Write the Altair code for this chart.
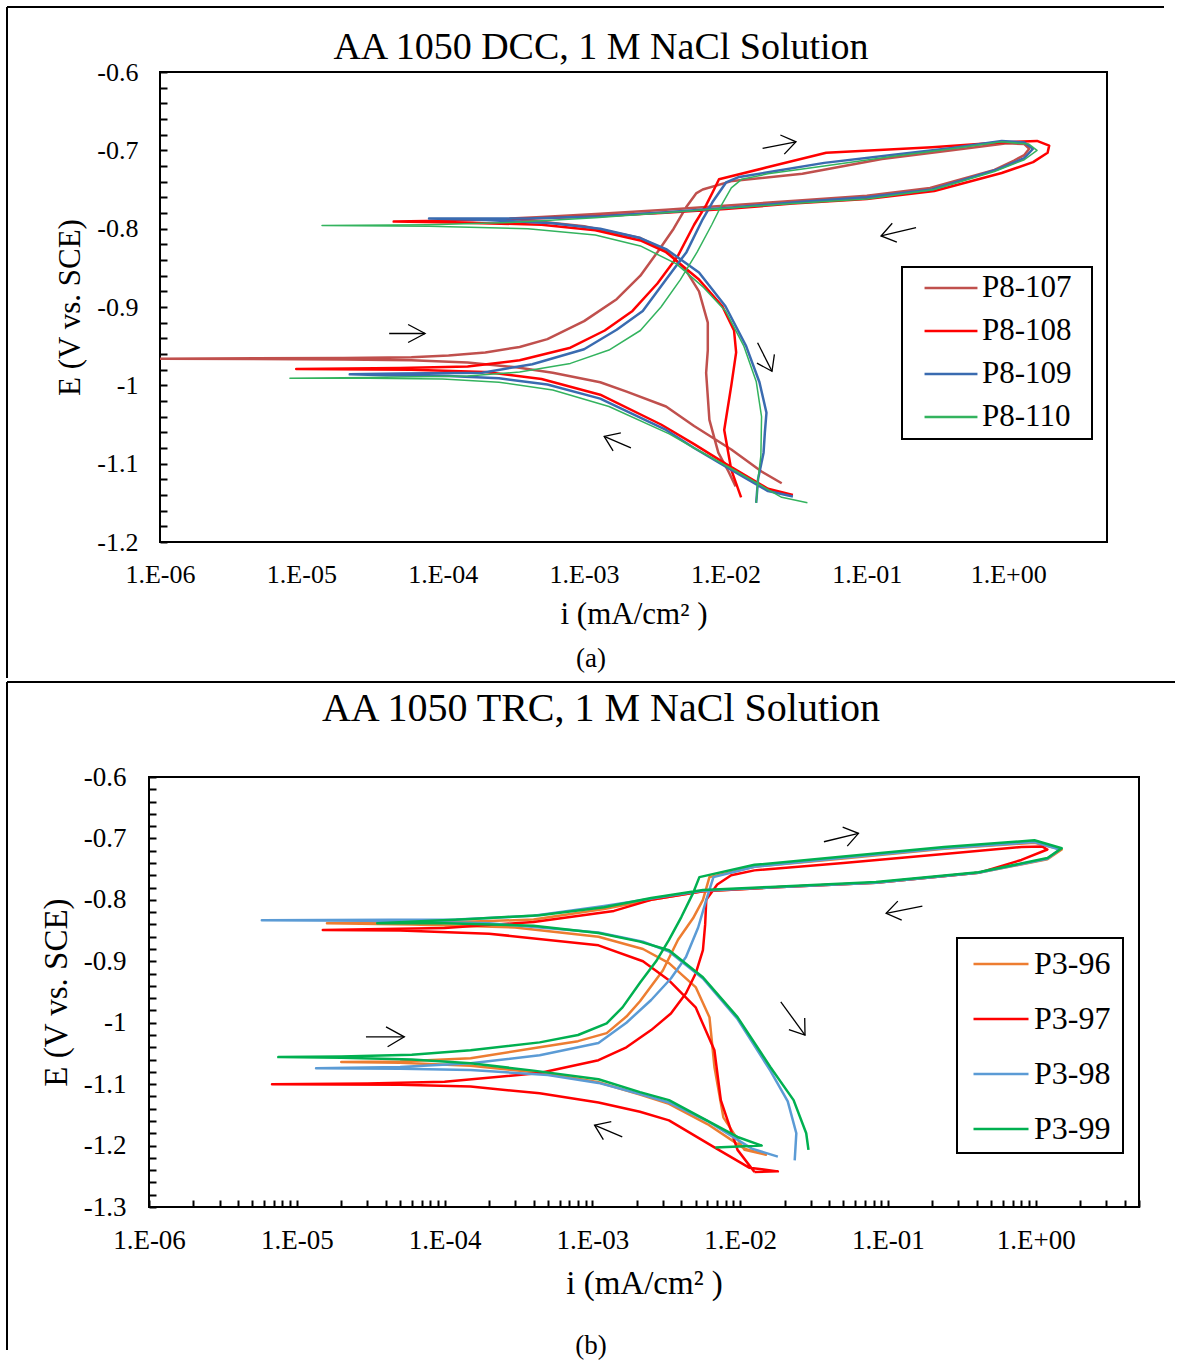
import altair as alt
import pandas as pd

# ---------------- Panel (a): AA 1050 DCC ----------------
A_SERIES = ["P8-107", "P8-108", "P8-109", "P8-110"]
A_COLORS = ["#C0504D", "#FF0000", "#3A6BB0", "#33B35E"]
A_WIDTHS = [2.5, 2.5, 2.5, 1.5]

# (i [mA/cm2], E [V vs SCE]) along the scan path
P8_107 = [(0.025, -1.125), (0.018, -1.110), (0.011, -1.082), (6e-3, -1.052), (3.8e-3, -1.027),
          (2e-3, -1.008), (1.3e-3, -0.996), (6e-4, -0.984), (3.3e-4, -0.977), (1.5e-4, -0.971),
          (6e-5, -0.968), (2e-5, -0.967), (1e-6, -0.966), (2e-5, -0.965), (6e-5, -0.964),
          (1.1e-4, -0.962), (2e-4, -0.958), (3.5e-4, -0.951), (5.5e-4, -0.941), (1.0e-3, -0.918),
          (1.7e-3, -0.890), (2.5e-3, -0.860), (3.3e-3, -0.830), (4.3e-3, -0.800), (5.3e-3, -0.772),
          (6.2e-3, -0.755), (6.9e-3, -0.750), (0.0112, -0.739), (0.035, -0.730), (0.128, -0.711),
          (0.4, -0.700), (0.98, -0.691), (1.3, -0.692), (1.41, -0.698), (1.3, -0.706), (1.1, -0.713),
          (0.8, -0.725), (0.28, -0.748), (0.1, -0.758), (0.033, -0.764), (0.011, -0.770),
          (3.8e-3, -0.776), (1.3e-3, -0.781), (5e-4, -0.785), (3e-4, -0.787), (1e-3, -0.797),
          (2.5e-3, -0.812), (3.8e-3, -0.828), (5.2e-3, -0.852), (6.5e-3, -0.880), (7.5e-3, -0.920),
          (7.5e-3, -0.955), (7.3e-3, -0.984), (7.7e-3, -1.044), (8.9e-3, -1.086), (0.0105, -1.110),
          (0.0118, -1.129)]
P8_108 = [(0.03, -1.140), (0.02, -1.132), (0.01, -1.100), (6e-3, -1.075), (3.5e-3, -1.050),
          (1.3e-3, -1.012), (5e-4, -0.992), (2e-4, -0.983), (6e-5, -0.980), (9.2e-6, -0.979),
          (5e-5, -0.978), (1.5e-4, -0.976), (3.5e-4, -0.968), (8e-4, -0.952), (1.4e-3, -0.930),
          (2.2e-3, -0.905), (3.3e-3, -0.870), (4.6e-3, -0.835), (6e-3, -0.795), (7.3e-3, -0.770),
          (8.3e-3, -0.750), (9e-3, -0.737), (0.0194, -0.722), (0.0516, -0.703), (0.29, -0.696),
          (0.87, -0.690), (1.6, -0.688), (1.95, -0.694), (1.9, -0.703), (1.5, -0.715), (0.9, -0.729),
          (0.3, -0.752), (0.1, -0.762), (0.03, -0.768), (0.01, -0.775), (3.5e-3, -0.780),
          (1.2e-3, -0.784), (3e-4, -0.788), (1e-4, -0.790), (4.5e-5, -0.791), (1.2e-4, -0.792),
          (5e-4, -0.795), (1.2e-3, -0.802), (2.5e-3, -0.815), (3.8e-3, -0.830), (6.5e-3, -0.865),
          (9.5e-3, -0.899), (0.0115, -0.930), (0.0119, -0.958), (0.011, -1.000), (0.0098, -1.057),
          (0.011, -1.108), (0.0129, -1.143)]
P8_109 = [(0.03, -1.142), (0.02, -1.135), (0.011, -1.108), (6e-3, -1.080), (3.8e-3, -1.057),
          (1.3e-3, -1.017), (5.5e-4, -0.999), (2.5e-4, -0.991), (1.1e-4, -0.988), (4e-5, -0.987),
          (2.2e-5, -0.986), (5e-5, -0.985), (1.9e-4, -0.984), (4.3e-4, -0.973), (1e-3, -0.954),
          (1.7e-3, -0.929), (2.6e-3, -0.905), (3.8e-3, -0.865), (5.3e-3, -0.830), (6.9e-3, -0.788),
          (8.1e-3, -0.766), (0.0101, -0.741), (0.0125, -0.734), (0.02, -0.728), (0.05, -0.716),
          (0.15, -0.706), (0.4, -0.697), (0.9, -0.688), (1.3, -0.690), (1.5, -0.698), (1.3, -0.710),
          (0.85, -0.724), (0.29, -0.750), (0.1, -0.760), (0.033, -0.766), (0.011, -0.773),
          (3.8e-3, -0.779), (1.3e-3, -0.784), (4e-4, -0.787), (1.5e-4, -0.787), (8e-5, -0.787),
          (2e-4, -0.789), (6e-4, -0.793), (1.3e-3, -0.800), (2.5e-3, -0.812), (3.8e-3, -0.826),
          (6.5e-3, -0.856), (0.01, -0.899), (0.014, -0.950), (0.0174, -0.996), (0.0195, -1.035),
          (0.019, -1.060), (0.0186, -1.086), (0.017, -1.120), (0.0165, -1.150)]
P8_110 = [(0.038, -1.150), (0.025, -1.143), (0.012, -1.110), (6e-3, -1.080), (4e-3, -1.062),
          (1.5e-3, -1.027), (6e-4, -1.006), (2.5e-4, -0.996), (1e-4, -0.992), (3e-5, -0.991),
          (8.3e-6, -0.991), (3e-5, -0.990), (1.5e-4, -0.988), (3.5e-4, -0.983), (8e-4, -0.972),
          (1.5e-3, -0.955), (2.5e-3, -0.930), (3.5e-3, -0.900), (4.8e-3, -0.865), (6.3e-3, -0.830),
          (8e-3, -0.795), (9.5e-3, -0.768), (0.011, -0.748), (0.013, -0.737), (0.02, -0.730),
          (0.05, -0.720), (0.15, -0.708), (0.4, -0.698), (0.9, -0.689), (1.4, -0.692), (1.6, -0.700),
          (1.3, -0.712), (0.8, -0.727), (0.3, -0.750), (0.1, -0.762), (0.03, -0.768), (0.01, -0.774),
          (3.5e-3, -0.780), (1.2e-3, -0.786), (3e-4, -0.792), (8e-5, -0.795), (1.4e-5, -0.796),
          (8e-5, -0.797), (4e-4, -0.800), (1.2e-3, -0.808), (2.5e-3, -0.822), (4.5e-3, -0.845),
          (7e-3, -0.875), (0.01, -0.905), (0.0135, -0.950), (0.0165, -0.995), (0.018, -1.040),
          (0.0178, -1.090), (0.017, -1.120), (0.0165, -1.150)]
A_DATA = [P8_107, P8_108, P8_109, P8_110]

# scan-direction arrows (tail, head, two barbs), in data units
A_ARROW_TAIL = [(4.18e-5, -0.9338), (2.144e-3, -1.0799), (0.01831, -0.6976), (0.2229, -0.7986), (0.01688, -0.9457)]
A_ARROW_HEAD = [(7.50e-5, -0.9338), (1.387e-3, -1.0651), (0.03155, -0.6891), (0.1260, -0.8093), (0.02134, -0.9820)]
A_ARROW_B1 = [(5.69e-5, -0.9223), (1.82e-3, -1.0607), (0.02446, -0.6804), (0.1631, -0.8173), (0.02219, -0.9605)]
A_ARROW_B2 = [(5.69e-5, -0.9453), (1.604e-3, -1.0836), (0.02607, -0.7049), (0.1513, -0.7931), (0.01670, -0.9717)]

# ---------------- Panel (b): AA 1050 TRC ----------------
B_SERIES = ["P3-96", "P3-97", "P3-98", "P3-99"]
B_COLORS = ["#ED7D31", "#FF0000", "#5B9BD5", "#00B050"]
B_WIDTHS = [2.5, 2.5, 2.5, 2.5]

P3_96 = [(0.015, -1.215), (0.0107, -1.205), (6e-3, -1.165), (3.3e-3, -1.132), (2.1e-3, -1.117),
         (1.1e-3, -1.097), (5e-4, -1.083), (1.5e-4, -1.070), (5e-5, -1.065), (2e-5, -1.064),
         (5e-5, -1.063), (1.5e-4, -1.058), (4.4e-4, -1.040), (8e-4, -1.030), (1.25e-3, -1.017),
         (1.7e-3, -0.990), (2.1e-3, -0.965), (3e-3, -0.915), (3.8e-3, -0.865), (4.8e-3, -0.830),
         (5.6e-3, -0.800), (6.2e-3, -0.763), (0.0125, -0.746), (0.048, -0.733), (0.24, -0.717),
         (0.98, -0.707), (1.5, -0.718), (1.2, -0.734), (0.41, -0.756), (0.083, -0.772),
         (0.016, -0.780), (5.6e-3, -0.786), (2.5e-3, -0.800), (1.2e-3, -0.815), (4e-4, -0.832),
         (1e-4, -0.837), (1.6e-5, -0.838), (6e-5, -0.840), (3e-4, -0.845), (1.1e-3, -0.860),
         (2.2e-3, -0.880), (3.3e-3, -0.903), (5e-3, -0.942), (6.2e-3, -0.991), (6.7e-3, -1.072),
         (7.7e-3, -1.154), (0.0107, -1.207), (0.0152, -1.215)]
P3_97 = [(0.0125, -1.243), (0.018, -1.242), (0.0115, -1.236), (6.7e-3, -1.203), (3.3e-3, -1.159),
         (2.1e-3, -1.145), (1.1e-3, -1.130), (4.4e-4, -1.115), (1.5e-4, -1.104), (5e-5, -1.101),
         (6.8e-6, -1.100), (3e-5, -1.099), (1e-4, -1.096), (4.4e-4, -1.082), (1.1e-3, -1.061),
         (1.7e-3, -1.040), (2.5e-3, -1.012), (3.4e-3, -0.985), (4.3e-3, -0.952), (5e-3, -0.920),
         (5.6e-3, -0.882), (5.8e-3, -0.840), (5.9e-3, -0.800), (7e-3, -0.775), (8.7e-3, -0.760),
         (0.0125, -0.752), (0.05, -0.740), (0.25, -0.725), (0.8, -0.714), (1.1, -0.713),
         (1.2, -0.718), (0.8, -0.735), (0.41, -0.756), (0.083, -0.772), (0.016, -0.780),
         (5.6e-3, -0.786), (2.5e-3, -0.800), (1.4e-3, -0.818), (4e-4, -0.836), (1e-4, -0.846),
         (1.5e-5, -0.849), (5e-5, -0.850), (2e-4, -0.855), (1.1e-3, -0.874), (2.2e-3, -0.900),
         (3.3e-3, -0.931), (5e-3, -0.975), (6.7e-3, -1.045), (7.4e-3, -1.126), (9.6e-3, -1.207),
         (0.0125, -1.243)]
P3_98 = [(0.018, -1.218), (0.012, -1.205), (6e-3, -1.160), (3.3e-3, -1.130), (2.1e-3, -1.116),
         (1.1e-3, -1.098), (5e-4, -1.085), (1.5e-4, -1.077), (5e-5, -1.075), (1.35e-5, -1.074),
         (5e-5, -1.072), (1.5e-4, -1.066), (4.4e-4, -1.053), (1.1e-3, -1.033), (1.7e-3, -1.000),
         (2.5e-3, -0.963), (3.4e-3, -0.928), (4.3e-3, -0.893), (5.2e-3, -0.845), (5.9e-3, -0.800),
         (6.6e-3, -0.763), (0.0125, -0.746), (0.048, -0.732), (0.24, -0.716), (0.98, -0.706),
         (1.45, -0.718), (1.2, -0.733), (0.41, -0.756), (0.083, -0.772), (0.016, -0.780),
         (5.6e-3, -0.785), (2.5e-3, -0.798), (1.2e-3, -0.810), (4e-4, -0.826), (1.2e-4, -0.832),
         (5.8e-6, -0.833), (3e-5, -0.834), (2e-4, -0.838), (1.1e-3, -0.853), (2.2e-3, -0.868),
         (3.3e-3, -0.884), (5.6e-3, -0.928), (9.6e-3, -0.994), (0.016, -1.078), (0.021, -1.128),
         (0.024, -1.180), (0.0234, -1.224)]
P3_99 = [(6.8e-3, -1.203), (0.014, -1.200), (9.6e-3, -1.186), (3.3e-3, -1.126), (2.1e-3, -1.113),
         (1.1e-3, -1.092), (4e-4, -1.078), (1.5e-4, -1.066), (6e-5, -1.060), (2e-5, -1.057),
         (7.5e-6, -1.056), (2e-5, -1.055), (6e-5, -1.052), (1.5e-4, -1.045), (4.4e-4, -1.032),
         (8e-4, -1.020), (1.25e-3, -1.001), (1.6e-3, -0.975), (2.1e-3, -0.935), (2.7e-3, -0.900),
         (3.3e-3, -0.865), (4e-3, -0.828), (4.8e-3, -0.789), (5.3e-3, -0.763), (0.0125, -0.743),
         (0.048, -0.730), (0.24, -0.714), (0.98, -0.703), (1.5, -0.716), (1.2, -0.732),
         (0.41, -0.755), (0.083, -0.771), (0.016, -0.779), (5.6e-3, -0.784), (2.5e-3, -0.797),
         (1.2e-3, -0.812), (4.4e-4, -0.825), (1.5e-4, -0.831), (3.5e-5, -0.838), (1e-4, -0.838),
         (4e-4, -0.842), (1.1e-3, -0.854), (2.1e-3, -0.868), (3.3e-3, -0.882), (5.6e-3, -0.926),
         (9.6e-3, -0.991), (0.016, -1.072), (0.023, -1.126), (0.028, -1.180), (0.029, -1.207)]
B_DATA = [P3_96, P3_97, P3_98, P3_99]

B_ARROW_TAIL = [(2.938e-5, -1.0230), (1.594e-3, -1.1858), (0.03690, -0.7054), (0.1710, -0.8101), (0.01884, -0.9660)]
B_ARROW_HEAD = [(5.34e-5, -1.0230), (1.035e-3, -1.1668), (0.06322, -0.6917), (0.09723, -0.8220), (0.02748, -1.0202)]
B_ARROW_B1 = [(4.016e-5, -1.0067), (1.343e-3, -1.1612), (0.04941, -0.6816), (0.1240, -0.8331), (0.02735, -0.9925)]
B_ARROW_B2 = [(4.117e-5, -1.0392), (1.187e-3, -1.1904), (0.05308, -0.7125), (0.1167, -0.8020), (0.02138, -1.0112)]

X_MAJOR = [1e-6, 1e-5, 1e-4, 1e-3, 1e-2, 1e-1, 1e0]
X_MINOR_B = [m * 10.0 ** e for e in range(-6, 1) for m in range(1, 10)] + [2.0, 3.0, 4.0]
Y_TICKS_A = [round(-0.6 - 0.02 * k, 2) for k in range(31)]
Y_TICKS_B = [round(-0.6 - 0.02 * k, 2) for k in range(36)]

FONT = "Liberation Serif"
X_LABEL_EXPR = ("abs(log(datum.value)/LN10 - round(log(datum.value)/LN10)) < 0.001 ? "
                "(round(log(datum.value)/LN10) < 0 ? '1.E-0' + (-round(log(datum.value)/LN10)) "
                ": '1.E+0' + round(log(datum.value)/LN10)) : ''")
Y_LABEL_EXPR = ("abs(datum.value*10 - round(datum.value*10)) < 0.001 ? "
                "'-' + format(abs(datum.value), '~g') : ''")


def series_frame(names, data, widths):
    rows = []
    for name, pts, w in zip(names, data, widths):
        for k, (i, e) in enumerate(pts):
            rows.append({"series": name, "i": i, "E": e, "idx": k, "sw": w})
    return pd.DataFrame(rows)


def arrow_frame(tails, heads, b1s, b2s):
    rows = []
    for k, (t, h, p, q) in enumerate(zip(tails, heads, b1s, b2s)):
        for o, pt in enumerate([t, h]):
            rows.append({"grp": 2 * k, "o": o, "i": pt[0], "E": pt[1]})
        for o, pt in enumerate([p, h, q]):
            rows.append({"grp": 2 * k + 1, "o": o, "i": pt[0], "E": pt[1]})
    return pd.DataFrame(rows)


ONE = pd.DataFrame({"k": [0]})


def panel(df, adf, series, colors, ydom, x_axis, y_axis, legend, legend_box, title, title_xy,
          title_size, caption, caption_xy, rules, w, h):
    x = alt.X("i:Q", scale=alt.Scale(type="log", domain=[1e-6, 5], nice=False), axis=x_axis)
    y = alt.Y("E:Q", scale=alt.Scale(domain=ydom, nice=False, zero=False), axis=y_axis)
    lines = alt.Chart(df).mark_line(clip=True, strokeJoin="round").encode(
        x=x, y=y,
        color=alt.Color("series:N", scale=alt.Scale(domain=series, range=colors), legend=legend),
        size=alt.Size("sw:Q", scale=None),
        order=alt.Order("idx:Q"),
    )
    arrows = alt.Chart(adf).mark_line(color="black", strokeWidth=1.3).encode(
        x=x, y=y, detail="grp:N", order=alt.Order("o:Q")
    )
    box = alt.Chart(ONE).mark_rect(fill="white", stroke="black", strokeWidth=2).encode(
        x=alt.value(legend_box[0]), y=alt.value(legend_box[1]),
        x2=alt.value(legend_box[2]), y2=alt.value(legend_box[3]))
    ttl = alt.Chart(ONE).mark_text(text=title, font=FONT, fontSize=title_size, align="center",
                                   baseline="middle", color="black").encode(
        x=alt.value(title_xy[0]), y=alt.value(title_xy[1]))
    cap = alt.Chart(ONE).mark_text(text=caption, font="Liberation Sans Narrow", fontSize=27,
                                   align="center", baseline="middle", color="black").encode(
        x=alt.value(caption_xy[0]), y=alt.value(caption_xy[1]))
    layers = [lines, arrows, box, ttl, cap]
    for (x1, y1, x2, y2) in rules:
        layers.append(alt.Chart(ONE).mark_rule(color="black", strokeWidth=2).encode(
            x=alt.value(x1), y=alt.value(y1), x2=alt.value(x2), y2=alt.value(y2)))
    return alt.layer(*layers).properties(width=w, height=h)


top = panel(
    series_frame(A_SERIES, A_DATA, A_WIDTHS),
    arrow_frame(A_ARROW_TAIL, A_ARROW_HEAD, A_ARROW_B1, A_ARROW_B2),
    A_SERIES, A_COLORS, [-1.2, -0.6],
    alt.Axis(values=X_MAJOR, labelExpr=X_LABEL_EXPR, ticks=False, tickSize=0, domain=False, grid=False,
             labelPadding=19, labelFontSize=26, labelFont=FONT, labelFlush=False, labelOverlap=False,
             title="i (mA/cm² )", titleFontSize=31, titleFont=FONT, titleFontWeight="normal",
             titlePadding=12),
    alt.Axis(values=Y_TICKS_A, labelExpr=Y_LABEL_EXPR, offset=-7, tickSize=7, tickWidth=2,
             domain=False, grid=False, labelPadding=22, labelFontSize=26, labelFont=FONT,
             labelOverlap=False, title="E (V vs. SCE)", titleFontSize=31, titleFont=FONT,
             titleFontWeight="normal", titlePadding=10),
    alt.Legend(title=None, orient="none", legendX=763, legendY=188, symbolType="stroke",
               symbolSize=2800, symbolStrokeWidth=2.5, labelFont=FONT, labelFontSize=31,
               padding=0, rowPadding=0, symbolOffset=0, labelOffset=3, labelLimit=0),
    (742, 195, 932, 367),
    "AA 1050 DCC, 1 M NaCl Solution", (441, -24), 38,
    "(a)", (431, 587),
    [(-153, -65, -153, 606), (-153, -65, 1004, -65)],
    947, 470,
)

bottom = panel(
    series_frame(B_SERIES, B_DATA, B_WIDTHS),
    arrow_frame(B_ARROW_TAIL, B_ARROW_HEAD, B_ARROW_B1, B_ARROW_B2),
    B_SERIES, B_COLORS, [-1.3, -0.6],
    alt.Axis(values=X_MINOR_B, labelExpr=X_LABEL_EXPR, offset=-7, tickSize=7, tickWidth=2,
             domain=False, grid=False, labelPadding=20, labelFontSize=27, labelFont=FONT,
             labelFlush=False, labelOverlap=False, title="i (mA/cm² )", titleFontSize=33,
             titleFont=FONT, titleFontWeight="normal", titlePadding=14),
    alt.Axis(values=Y_TICKS_B, labelExpr=Y_LABEL_EXPR, offset=-7, tickSize=7, tickWidth=2,
             domain=False, grid=False, labelPadding=23, labelFontSize=27, labelFont=FONT,
             labelOverlap=False, title="E (V vs. SCE)", titleFontSize=33, titleFont=FONT,
             titleFontWeight="normal", titlePadding=10),
    alt.Legend(title=None, orient="none", legendX=823, legendY=158, symbolType="stroke",
               symbolSize=3025, symbolStrokeWidth=2.5, labelFont=FONT, labelFontSize=32,
               padding=0, rowPadding=10, symbolOffset=0, labelOffset=4, labelLimit=0),
    (808, 161, 974, 376),
    "AA 1050 TRC, 1 M NaCl Solution", (452, -68), 40,
    "(b)", (442, 569),
    [(-142, -95, 1026, -95), (-142, -95, -142, 573)],
    990, 430,
)

chart = alt.vconcat(top, bottom, spacing=0, bounds="full", center=True).resolve_scale(
    color="independent", x="independent", y="independent"
).properties(
    padding={"left": 5, "top": 5, "right": 0, "bottom": 0},
    background="white",
).configure_view(
    stroke="black", strokeWidth=2
).configure_axis(
    labelColor="black", titleColor="black", tickColor="black"
)

chart.save("out.html", embed_options={"renderer": "svg", "actions": False})
